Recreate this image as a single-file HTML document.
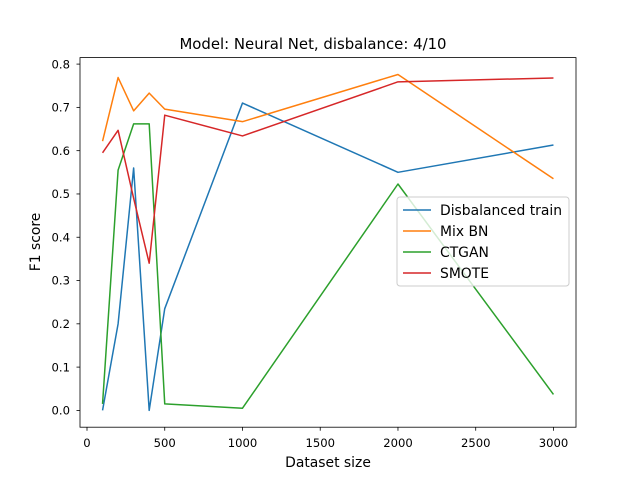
<!DOCTYPE html>
<html><head><meta charset="utf-8"><style>
body{margin:0;background:#fff}
svg{font-family:"DejaVu Sans","Liberation Sans",sans-serif}
</style></head><body>
<svg id="chart" width="640" height="480" xmlns="http://www.w3.org/2000/svg">
<rect width="640" height="480" fill="#fff"/>
<text x="313" y="49" text-anchor="middle" font-size="14.9">Model: Neural Net, disbalance: 4/10</text>
<g id="plot"></g>
<text x="328" y="467" text-anchor="middle" font-size="13.9">Dataset size</text>
<text transform="translate(40,242) rotate(-90)" text-anchor="middle" font-size="13.9">F1 score</text>
</svg>
<script>
const xs=[100,200,300,400,500,1000,2000,3000];
const disbalanced=[0.0,0.2,0.56,0.0,0.235,0.71,0.55,0.613];
const mixBN=[0.622,0.769,0.692,0.733,0.696,0.667,0.776,0.535];
const ctgan=[0.015,0.555,0.662,0.662,0.015,0.005,0.523,0.037];
const smote=[0.595,0.647,0.49,0.34,0.682,0.634,0.759,0.768];
const seriesNames=["Disbalanced train","Mix BN","CTGAN","SMOTE"];
const xTicks=[0,500,1000,1500,2000,2500,3000];
const yTicks=[0,0.1,0.2,0.3,0.4,0.5,0.6,0.7,0.8];
const L=80,R=576,T=57.6,B=427.2,x0=-45,x1=3145,y0=-0.0388,y1=0.815;
const sx=v=>L+(v-x0)/(x1-x0)*(R-L), sy=v=>B-(v-y0)/(y1-y0)*(B-T);
const NS="http://www.w3.org/2000/svg", g=document.getElementById('plot');
function mk(t,a){const e=document.createElementNS(NS,t);for(const k in a)e.setAttribute(k,a[k]);g.appendChild(e);return e;}
const colors=["#1f77b4","#ff7f0e","#2ca02c","#d62728"];
[disbalanced,mixBN,ctgan,smote].forEach((s,i)=>{
 const p=mk('polyline',{points:s.map((v,j)=>sx(xs[j])+','+sy(v)).join(' '),fill:'none',stroke:colors[i],'stroke-width':1.5,'stroke-linejoin':'round'});
 
 
});
xTicks.forEach(v=>{
 const l=mk('line',{x1:sx(v),x2:sx(v),y1:B,y2:B+3.5,stroke:'#000','stroke-width':0.8});
 
 
 const t=mk('text',{x:sx(v),y:B+20,'text-anchor':'middle','font-size':11.6});
 t.textContent=v;
 
 
});
yTicks.forEach(v=>{
 const l=mk('line',{x1:L-3.5,x2:L,y1:sy(v),y2:sy(v),stroke:'#000','stroke-width':0.8});
 
 
 const t=mk('text',{x:L-10,y:sy(v)+4.2,'text-anchor':'end','font-size':11.6});
 t.textContent=v.toFixed(1);
 
 
});
const fr=mk('rect',{x:L,y:T,width:R-L,height:B-T,fill:'none',stroke:'#000','stroke-width':0.8});


const lg=mk('rect',{x:397,y:197,width:172,height:89,rx:3,fill:'#fff','fill-opacity':0.8,stroke:'#ccc','stroke-width':1});


seriesNames.forEach((n,i)=>{
 const y=210+i*21;
 const l=mk('line',{x1:403,x2:431,y1:y,y2:y,stroke:colors[i],'stroke-width':1.5});
 
 
 const t=mk('text',{x:440,y:y+5,'font-size':13.9});
 t.textContent=n;
 
 
});
</script>
</body></html>
